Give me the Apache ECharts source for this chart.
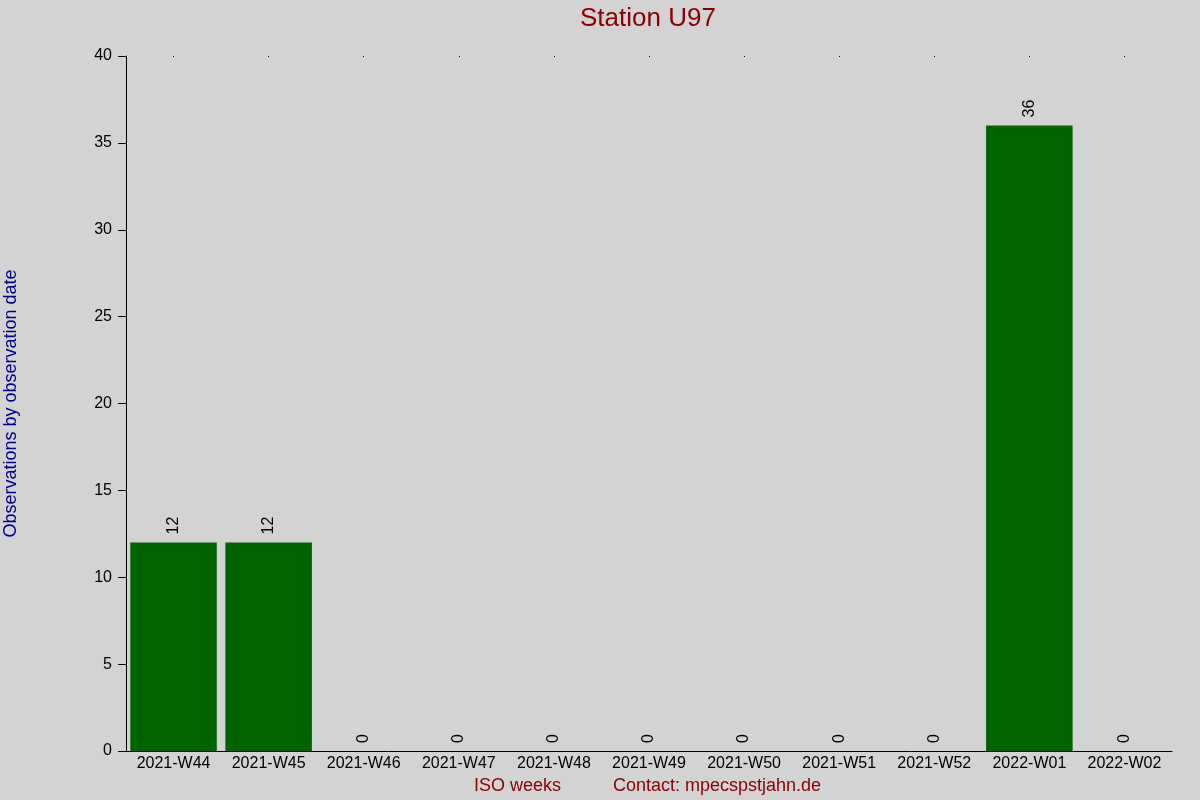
<!DOCTYPE html>
<html><head><meta charset="utf-8">
<script src="https://cdn.jsdelivr.net/npm/echarts@6/dist/echarts.min.js"></script>
<style>html,body{margin:0;padding:0;background:#d3d3d3}#c{width:1200px;height:800px}</style>
</head><body><div id="c"></div>
<script>
const categories = ['2021-W44','2021-W45','2021-W46','2021-W47','2021-W48','2021-W49','2021-W50','2021-W51','2021-W52','2022-W01','2022-W02'];
const observations = [12,12,0,0,0,0,0,0,0,36,0];
const yTicks = {min:0, max:40, interval:5};

const chart = echarts.init(document.getElementById('c'));
const font = 'Liberation Sans, Arial, sans-serif';
chart.setOption({
  backgroundColor:'#d3d3d3',
  animation:false,
  title:[
    {text:'Station U97', left:580, top:6, textStyle:{color:'#8b0000', fontSize:26, fontWeight:'normal', fontFamily:font}, padding:0},
    {text:'ISO weeks', left:474, top:777, textStyle:{color:'#8b0000', fontSize:18, fontWeight:'normal', fontFamily:font}, padding:0},
    {text:'Contact: mpecspstjahn.de', left:613, top:777, textStyle:{color:'#8b0000', fontSize:18, fontWeight:'normal', fontFamily:font}, padding:0}
  ],
  grid:{left:126, right:28, top:56, bottom:49, containLabel:false, outerBoundsMode:'none'},
  xAxis:[{
    type:'category', data:categories,
    axisLine:{show:true, lineStyle:{color:'#000', width:1}},
    axisTick:{show:false},
    axisLabel:{color:'#000', fontSize:16, fontFamily:font, margin:5, interval:0}
  },{
    type:'category', data:categories, position:'top',
    axisLine:{show:false},
    axisTick:{show:true, alignWithLabel:true, length:1, inside:true, lineStyle:{color:'#000'}},
    axisLabel:{show:false}
  }],
  yAxis:{
    type:'value', min:yTicks.min, max:yTicks.max, interval:yTicks.interval,
    name:'Observations by observation date', nameLocation:'middle', nameGap:106, nameRotate:90,
    nameTextStyle:{color:'#00008b', fontSize:18, fontFamily:font},
    axisLine:{show:true, lineStyle:{color:'#000'}},
    axisTick:{show:true, length:8, lineStyle:{color:'#000'}},
    axisLabel:{color:'#000', fontSize:16, fontFamily:font, margin:14},
    splitLine:{show:false}
  },
  series:[{
    type:'bar', data:observations, barCategoryGap:'9%',
    itemStyle:{color:'#006400'},
    label:{show:true, position:'top', rotate:90, align:'left', verticalAlign:'middle', distance:8,
      color:'#000', fontSize:16, fontFamily:font}
  }]
});
</script></body></html>
